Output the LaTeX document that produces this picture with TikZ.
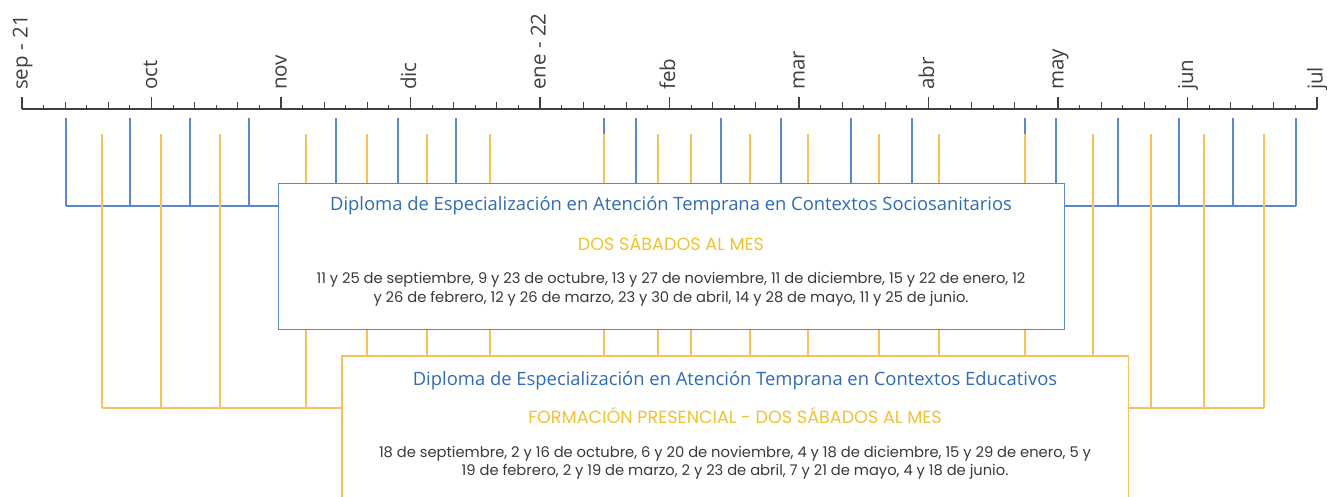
\documentclass[tikz,border=0pt]{standalone}
\usepackage{fontspec}
\setmainfont{Open Sans}
\newfontfamily\bodyfont{Poppins}
\definecolor{axisgray}{HTML}{3F3F3F}
\definecolor{lineblue}{HTML}{5A88CC}
\definecolor{lineyellow}{HTML}{F6C25A}
\definecolor{titleblue}{HTML}{2F6CB8}
\definecolor{subyellow}{HTML}{F2C230}
\definecolor{bodygray}{HTML}{3A3A3A}
\begin{document}
\begin{tikzpicture}[x=1pt,y=-1pt,
  axisline/.style={draw=axisgray, line width=1.1pt},
  bline/.style={draw=lineblue, line width=1.3pt},
  yline/.style={draw=lineyellow, line width=1.3pt},
  monthlabel/.style={rotate=90, anchor=mid west, inner sep=0pt, font=\fontsize{20.5}{20.5}\selectfont, text=axisgray},
  titletext/.style={font=\fontsize{18.4}{20}\selectfont, text=titleblue, anchor=base, inner sep=0pt},
  subtext/.style={font=\bodyfont\fontsize{17.6}{19}\selectfont, text=subyellow, anchor=base, inner sep=0pt},
  bodytext/.style={font=\bodyfont\fontsize{14.7}{17}\selectfont, text=bodygray, anchor=base, inner sep=0pt},
  bluebox/.style={draw=lineblue, line width=1.3pt, fill=white, inner sep=0pt, anchor=north west},
  yellowbox/.style={fill=white, inner sep=0pt, anchor=north west}
]
\useasboundingbox (0,0) rectangle (1327,497);

% ---------- time axis ----------
\draw[axisline] (22,109) -- (1317,109);
\foreach \m [count=\i from 0] in {sep - 21, oct, nov, dic, ene - 22, feb, mar, abr, may, jun, jul} {
  \node[monthlabel] (month\i) at ({25+129.5*\i},90) {\m};
  \draw[axisline] ({22+129.5*\i},97) -- ({22+129.5*\i},109);
}
\foreach \i in {0,...,9} {
  \foreach \k in {1,3,5} \draw[axisline] ({22+129.5*\i+21.583*\k},105) -- ({22+129.5*\i+21.583*\k},109);
  \foreach \k in {2,4} \draw[axisline] ({22+129.5*\i+21.583*\k},102) -- ({22+129.5*\i+21.583*\k},109);
}

% ---------- boxes ----------
\node[bluebox, minimum width=786pt, minimum height=146pt] (bbox) at (278,183) {};
\node[yellowbox, minimum width=786pt, minimum height=141pt] (ybox) at (342,356) {};
\draw[yline] (ybox.south west) |- (ybox.north east) -- (ybox.south east);

\node[titletext] (btitle) at (671,211) {Diploma de Especialización en Atención Temprana en Contextos Sociosanitarios};
\node[subtext] (bsub) at (671,250) {DOS SÁBADOS AL MES};
\node[bodytext] (bbody1) at (671,283) {11 y 25 de septiembre, 9 y 23 de octubre, 13 y 27 de noviembre, 11 de diciembre, 15 y 22 de enero, 12};
\node[bodytext] (bbody2) at (671,302) {y 26 de febrero, 12 y 26 de marzo, 23 y 30 de abril, 14 y 28 de mayo, 11 y 25 de junio.};

\node[titletext] (ytitle) at (735,385) {Diploma de Especialización en Atención Temprana en Contextos Educativos};
\node[subtext] (ysub) at (735,423) {FORMACIÓN PRESENCIAL - DOS SÁBADOS AL MES};
\node[bodytext] (ybody1) at (735,457) {18 de septiembre, 2 y 16 de octubre, 6 y 20 de noviembre, 4 y 18 de diciembre, 15 y 29 de enero, 5 y};
\node[bodytext] (ybody2) at (735,475) {19 de febrero, 2 y 19 de marzo, 2 y 23 de abril, 7 y 21 de mayo, 4 y 18 de junio.};

% ---------- blue connectors ----------
\coordinate (bbusL) at (66,206);
\coordinate (bbusR) at (1296,206);
\foreach \x [count=\i] in {66,130,190,249,336,398,456,604,636,721,781,851,912,1025,1056,1118,1179,1233,1296}
  \coordinate (bt\i) at (\x,118);
\draw[bline] (bbusL) -- (bbusL -| bbox.west);
\draw[bline] (bbox.east |- bbusR) -- (bbusR);
\foreach \i in {1,2,3,4,16,17,18,19} \draw[bline] (bt\i) -- (bt\i |- bbusL);
\foreach \i in {5,...,15} \draw[bline] (bt\i) -- (bt\i |- bbox.north);

% ---------- yellow connectors ----------
\coordinate (ybusL) at (102,408);
\coordinate (ybusR) at (1264,408);
\foreach \x [count=\i] in {102,161,220,306,367,427,490,604,658,691,750,808,879,939,1025,1093,1151,1204,1264}
  \coordinate (yt\i) at (\x,134);
\draw[yline] (ybusL) -- (ybusL -| ybox.west);
\draw[yline] (ybox.east |- ybusR) -- (ybusR);
\foreach \i in {1,2,3,17,18,19} \draw[yline] (yt\i) -- (yt\i |- ybusL);
\draw[yline] (yt4) -- (yt4 |- bbox.north);
\draw[yline] (yt4 |- bbox.south) -- (yt4 |- ybusL);
\foreach \i in {5,...,15} {
  \draw[yline] (yt\i) -- (yt\i |- bbox.north);
  \draw[yline] (yt\i |- bbox.south) -- (yt\i |- ybox.north);
}
\draw[yline] (yt16) -- (yt16 |- ybox.north);
\end{tikzpicture}
\end{document}
